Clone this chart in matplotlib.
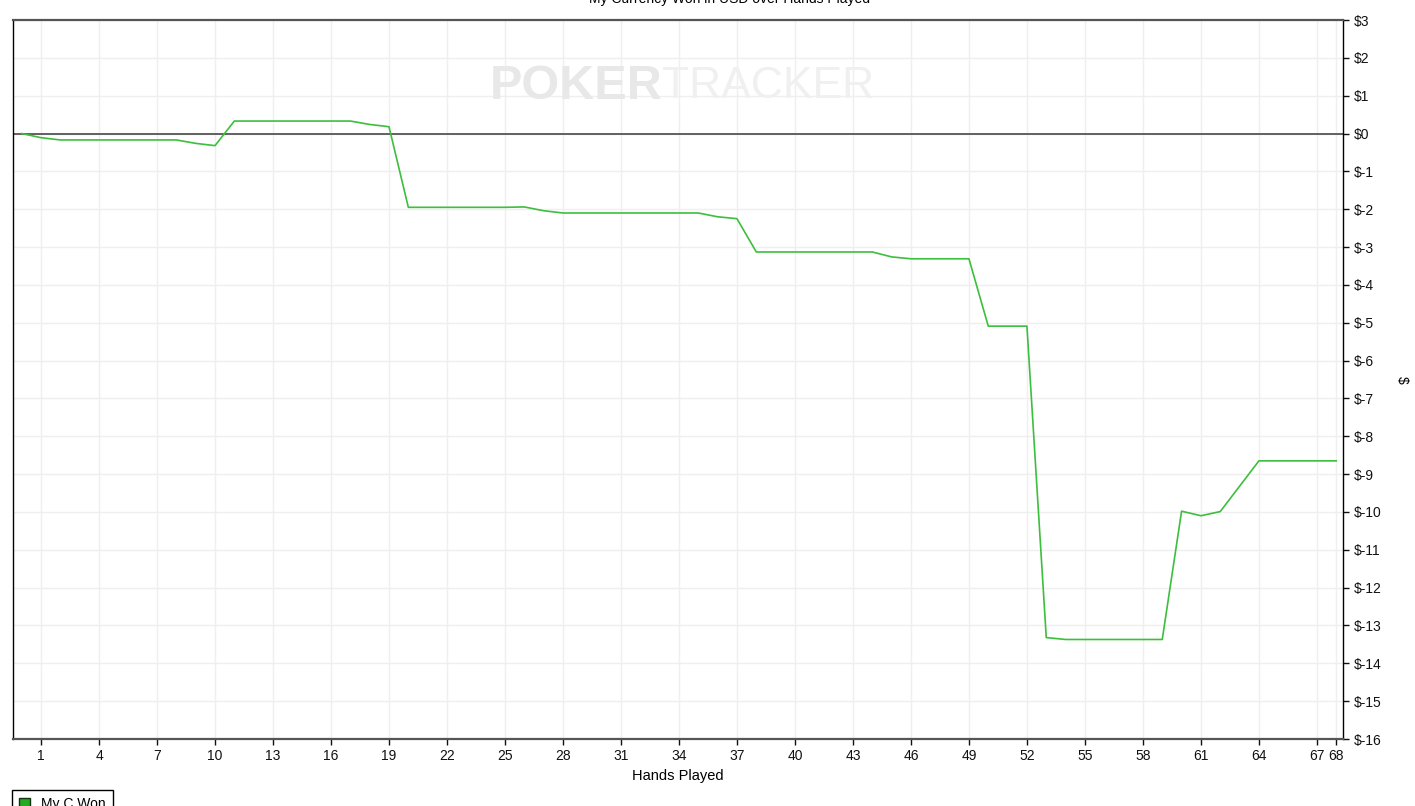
import matplotlib.pyplot as plt
from matplotlib.patches import Patch

plt.rcParams['font.family'] = ['Liberation Sans', 'DejaVu Sans']

hands = list(range(0, 69))
won = [0.00, -0.11, -0.17, -0.17, -0.17, -0.17, -0.17, -0.17, -0.17, -0.26,
       -0.32, 0.33, 0.33, 0.33, 0.33, 0.33, 0.33, 0.33, 0.24, 0.18,
       -1.95, -1.95, -1.95, -1.95, -1.95, -1.95, -1.94, -2.04, -2.10, -2.10,
       -2.10, -2.10, -2.10, -2.10, -2.10, -2.10, -2.20, -2.25, -3.13, -3.13,
       -3.13, -3.13, -3.13, -3.13, -3.13, -3.26, -3.31, -3.31, -3.31, -3.31,
       -5.09, -5.09, -5.09, -13.32, -13.37, -13.37, -13.37, -13.37, -13.37, -13.37,
       -9.98, -10.10, -9.99, -9.32, -8.65, -8.65, -8.65, -8.65, -8.65]

x_ticks = [1, 4, 7, 10, 13, 16, 19, 22, 25, 28, 31, 34, 37, 40, 43, 46, 49,
           52, 55, 58, 61, 64, 67, 68]
y_ticks = list(range(-16, 4))
y_labels = ['$' + str(v) for v in y_ticks]

title = 'My Currency Won in USD over Hands Played'
series_name = 'My C Won'

fig = plt.figure(figsize=(14.15, 8.06), dpi=100)
ax = fig.add_axes([13 / 1415, 67 / 806, 1330 / 1415, 719 / 806])

ax.plot(hands, won, color='#3cbf3c', lw=1.2, zorder=3)
ax.axhline(0, color='#555555', lw=1.3, zorder=2)

ax.set_xlim(-0.45, 68.35)
ax.set_ylim(-16, 3)
ax.set_xticks(x_ticks)
ax.set_yticks(y_ticks)
ax.set_yticklabels(y_labels)
ax.yaxis.tick_right()
ax.yaxis.set_label_position('right')
ax.grid(True, color='#efefef', lw=1)
ax.set_axisbelow(True)

ax.tick_params(axis='both', labelsize=10, colors='#111111', length=4, width=1)
ax.tick_params(axis='y', left=False)
ax.set_xlabel('Hands Played', fontsize=10.5, labelpad=4)
ax.set_ylabel('$', fontsize=10, rotation=270, labelpad=20)

for s in ['left', 'right']:
    ax.spines[s].set_color('black')
    ax.spines[s].set_linewidth(1)
for s in ['top', 'bottom']:
    ax.spines[s].set_color('#555555')
    ax.spines[s].set_linewidth(1.6)

# watermark
ax.text(0.488, 0.907, 'POKER', transform=ax.transAxes, ha='right', va='center',
        fontsize=35, fontweight='bold', color='#e8e8e8', zorder=1)
ax.text(0.488, 0.907, 'TRACKER', transform=ax.transAxes, ha='left', va='center',
        fontsize=32, color='#f0f0f0', zorder=1)

fig.text(729 / 1415, 1.0 + 1 / 806, title, ha='center', va='center', fontsize=10)

fig.legend(handles=[Patch(facecolor='#22aa22', edgecolor='#113311', label=series_name)],
           loc='upper left', bbox_to_anchor=(12 / 1415, 16 / 806), borderaxespad=0,
           fancybox=False, edgecolor='black', framealpha=1, fontsize=10,
           handlelength=0.8, handleheight=0.8, borderpad=0.5)

fig.savefig('out.png', dpi=100)
